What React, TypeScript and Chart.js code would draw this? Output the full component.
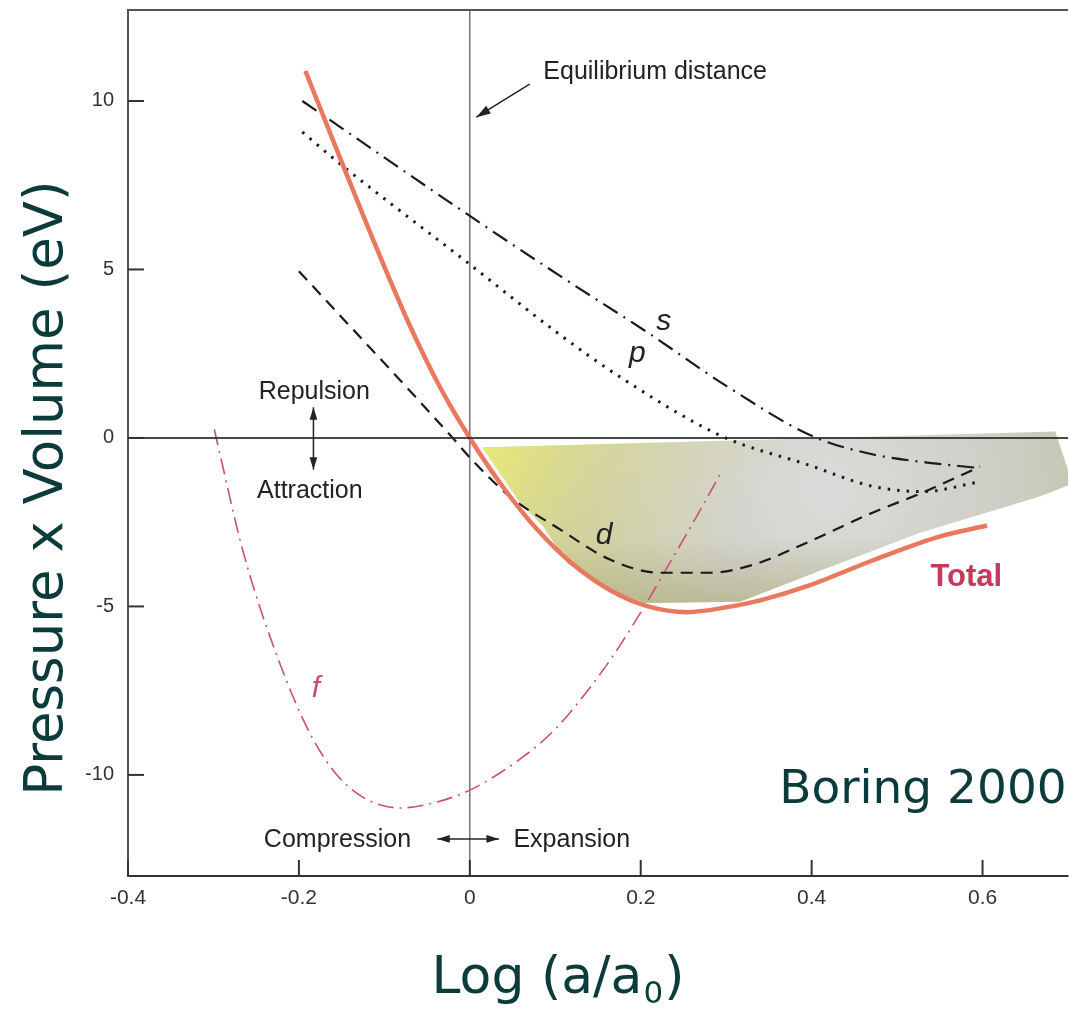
import React, { useEffect, useRef } from 'react';
import { Chart, registerables } from 'chart.js';

Chart.register(...registerables);

// ---------- data ----------
const xTicks = [-0.4, -0.2, 0, 0.2, 0.4, 0.6];
const xTickLabels = ['-0.4', '-0.2', '0', '0.2', '0.4', '0.6'];
const yTicks = [10, 5, 0, -5, -10];
const yTickLabels = ['10', '5', '0', '-5', '-10'];

const totalX = [-0.1924, -0.1515, -0.1105, -0.0696, -0.0345, 0, 0.0392, 0.0789, 0.1175, 0.1643, 0.2076, 0.2544, 0.3012, 0.3398, 0.3947, 0.4719, 0.5503, 0.6053];
const totalY = [10.89, 8.29, 5.72, 3.3, 1.49, 0, -1.47, -2.72, -3.68, -4.52, -4.99, -5.17, -5.02, -4.82, -4.4, -3.63, -2.92, -2.6];

const sX = [-0.196, -0.003, 0.106, 0.208, 0.301, 0.402, 0.472, 0.535, 0.591];
const sY = [10.0, 6.64, 4.8, 3.13, 1.53, 0.04, -0.49, -0.73, -0.88];

const pX = [-0.196, -0.154, -0.003, 0.102, 0.18, 0.296, 0.395, 0.472, 0.53, 0.599];
const pY = [9.08, 8.18, 5.21, 3.13, 1.74, 0.04, -0.79, -1.44, -1.59, -1.29];

const dX = [-0.2, -0.02, 0.0, 0.047, 0.106, 0.164, 0.223, 0.281, 0.332, 0.395, 0.472, 0.53, 0.597];
const dY = [4.95, 0.0, -0.58, -1.74, -2.72, -3.61, -4.0, -4.0, -3.76, -3.1, -2.21, -1.62, -0.85];

const fX = [-0.299, -0.265, -0.224, -0.183, -0.142, -0.081, -0.0392, 0.0018, 0.0626, 0.1, 0.1351, 0.1702, 0.2076, 0.231, 0.2614, 0.2953];
const fY = [0.25, -3.4, -6.58, -8.96, -10.35, -10.98, -10.81, -10.43, -9.46, -8.64, -7.59, -6.37, -4.86, -3.84, -2.51, -0.97];

// shaded region outline
const shadeX = [0.0146, 0.685, 0.703, 0.703, 0.667, 0.527, 0.413, 0.316, 0.205, 0.164, 0.114, 0.086, 0.059];
const shadeY = [-0.28, 0.19, -1.17, -1.38, -1.74, -2.81, -3.91, -4.86, -4.9, -4.52, -3.72, -2.63, -1.92];

const pts = (xs: number[], ys: number[]) => xs.map((x, i) => ({ x, y: ys[i] }));

// ---------- styles ----------
const ANN_FONT = '25px "Liberation Sans", Arial, sans-serif';
const CURVE_FONT = 'italic 30px "Liberation Sans", Arial, sans-serif';
const TITLE_COLOR = '#0b3b3a';

function arrowHead(ctx: CanvasRenderingContext2D, x1: number, y1: number, x2: number, y2: number, size: number) {
  const a = Math.atan2(y2 - y1, x2 - x1);
  ctx.beginPath();
  ctx.moveTo(x2, y2);
  ctx.lineTo(x2 - size * Math.cos(a - 0.3), y2 - size * Math.sin(a - 0.3));
  ctx.lineTo(x2 - size * Math.cos(a + 0.3), y2 - size * Math.sin(a + 0.3));
  ctx.closePath();
  ctx.fill();
}

function arrow(ctx: CanvasRenderingContext2D, x1: number, y1: number, x2: number, y2: number, both: boolean, size: number) {
  ctx.beginPath();
  ctx.moveTo(x1, y1);
  ctx.lineTo(x2, y2);
  ctx.stroke();
  arrowHead(ctx, x1, y1, x2, y2, size);
  if (both) arrowHead(ctx, x2, y2, x1, y1, size);
}

const decorPlugin = {
  id: 'decor',
  afterDatasetsDraw(chart: any) {
    // zero line stays visible over the shaded region
    const { ctx, chartArea, scales } = chart;
    const y0 = scales.y.getPixelForValue(0);
    ctx.save();
    ctx.strokeStyle = 'rgba(40,40,40,0.85)';
    ctx.lineWidth = 2;
    ctx.beginPath();
    ctx.moveTo(chartArea.left, y0);
    ctx.lineTo(chartArea.right, y0);
    ctx.stroke();
    ctx.restore();
  },
  afterDraw(chart: any) {
    const { ctx, chartArea, scales } = chart;
    const { left, right, top, bottom } = chartArea;
    const px = (v: number) => scales.x.getPixelForValue(v);
    const py = (v: number) => scales.y.getPixelForValue(v);
    ctx.save();

    // top frame line
    ctx.strokeStyle = '#555';
    ctx.lineWidth = 2;
    ctx.beginPath();
    ctx.moveTo(left, top);
    ctx.lineTo(right, top);
    ctx.stroke();

    // inward tick marks
    ctx.strokeStyle = '#333';
    ctx.lineWidth = 2;
    yTicks.forEach((v) => {
      const y = py(v);
      ctx.beginPath();
      ctx.moveTo(left, y);
      ctx.lineTo(left + 16, y);
      ctx.stroke();
    });
    xTicks.forEach((v) => {
      const x = px(v);
      ctx.beginPath();
      ctx.moveTo(x, bottom);
      ctx.lineTo(x, bottom - 16);
      ctx.stroke();
    });

    // annotations
    ctx.fillStyle = '#222';
    ctx.strokeStyle = '#222';
    ctx.font = ANN_FONT;
    ctx.textAlign = 'left';
    ctx.textBaseline = 'alphabetic';
    ctx.fillText('Equilibrium distance', px(0.086), py(10.65));
    ctx.fillText('Repulsion', px(-0.247), py(1.17));
    ctx.fillText('Attraction', px(-0.249), py(-1.79));
    ctx.fillText('Compression', px(-0.241), py(-12.14));
    ctx.fillText('Expansion', px(0.051), py(-12.14));

    ctx.lineWidth = 1.5;
    arrow(ctx, px(0.07), py(10.5), px(0.0076), py(9.52), false, 15);
    arrow(ctx, px(-0.183), py(0.91), px(-0.183), py(-0.94), true, 13);
    arrow(ctx, px(-0.038), py(-11.9), px(0.034), py(-11.9), true, 13);

    // curve labels
    ctx.font = CURVE_FONT;
    ctx.textAlign = 'center';
    ctx.fillStyle = '#222';
    ctx.fillText('s', px(0.227), py(3.2));
    ctx.fillText('p', px(0.196), py(2.24));
    ctx.fillText('d', px(0.157), py(-3.16));
    ctx.fillStyle = '#c94a6e';
    ctx.fillText('f', px(-0.18), py(-7.68));
    ctx.textAlign = 'left';
    ctx.fillStyle = '#c8375c';
    ctx.font = 'bold 31px "Liberation Sans", Arial, sans-serif';
    ctx.fillText('Total', px(0.539), py(-4.4));

    // source note
    ctx.fillStyle = TITLE_COLOR;
    ctx.font = '47px "DejaVu Sans", sans-serif';
    ctx.fillText('Boring 2000', px(0.362), py(-10.83));

    // axis titles
    ctx.font = '53px "DejaVu Sans", sans-serif';
    ctx.save();
    ctx.translate(62, 488);
    ctx.rotate(-Math.PI / 2);
    ctx.textAlign = 'center';
    ctx.fillText('Pressure x Volume (eV)', 0, 0);
    ctx.restore();

    ctx.textAlign = 'left';
    const mainT = 'Log (a/a';
    const subT = '0';
    const tailT = ')';
    ctx.font = '52px "DejaVu Sans", sans-serif';
    const w1 = ctx.measureText(mainT).width;
    const w3 = ctx.measureText(tailT).width;
    ctx.font = '31px "DejaVu Sans", sans-serif';
    const w2 = ctx.measureText(subT).width;
    const total = w1 + w2 + w3;
    const cx = 557;
    const x0 = cx - total / 2;
    const base = 993;
    ctx.font = '52px "DejaVu Sans", sans-serif';
    ctx.fillText(mainT, x0, base);
    ctx.font = '31px "DejaVu Sans", sans-serif';
    ctx.fillText(subT, x0 + w1 + 1, base + 10);
    ctx.font = '52px "DejaVu Sans", sans-serif';
    ctx.fillText(tailT, x0 + w1 + w2 + 2, base);

    ctx.restore();
  },
};

function shadeBase(c: any) {
  const { ctx, chartArea, scales } = c.chart;
  if (!chartArea) return 'rgba(205,205,195,1)';
  const cx = scales.x.getPixelForValue(0.42);
  const cy = scales.y.getPixelForValue(-1.5);
  const g = ctx.createRadialGradient(cx, cy, 0, cx, cy, 300);
  g.addColorStop(0, '#dbdbda');
  g.addColorStop(0.55, '#cfcfc7');
  g.addColorStop(1, '#c2c2aa');
  return g;
}

function shadeYellow(c: any) {
  const { ctx, chartArea, scales } = c.chart;
  if (!chartArea) return 'rgba(0,0,0,0)';
  const x1 = scales.x.getPixelForValue(0.015);
  const y1 = scales.y.getPixelForValue(-0.2);
  const x2 = scales.x.getPixelForValue(0.3);
  const y2 = scales.y.getPixelForValue(-3.6);
  const g = ctx.createLinearGradient(x1, y1, x2, y2);
  g.addColorStop(0, 'rgba(236,236,118,0.95)');
  g.addColorStop(0.45, 'rgba(226,226,130,0.45)');
  g.addColorStop(1, 'rgba(226,226,130,0)');
  return g;
}

function shadeBottom(c: any) {
  const { ctx, chartArea, scales } = c.chart;
  if (!chartArea) return 'rgba(0,0,0,0)';
  const y1 = scales.y.getPixelForValue(-3.0);
  const y2 = scales.y.getPixelForValue(-4.95);
  const g = ctx.createLinearGradient(0, y1, 0, y2);
  g.addColorStop(0, 'rgba(172,172,120,0)');
  g.addColorStop(1, 'rgba(172,172,120,0.6)');
  return g;
}

export default function App() {
  const ref = useRef<HTMLCanvasElement>(null);
  useEffect(() => {
    document.body.style.margin = '0';
    const lineBase = { pointRadius: 0, fill: false, cubicInterpolationMode: 'monotone' as const };
    const shapeBase = { pointRadius: 0, borderWidth: 0, borderColor: 'rgba(0,0,0,0)', fill: 'shape', tension: 0 };
    const chart = new Chart(ref.current as HTMLCanvasElement, {
      type: 'line',
      data: {
        datasets: [
          { ...lineBase, label: 'Total', data: pts(totalX, totalY), borderColor: '#e9785f', borderWidth: 4.5, order: 0 },
          { ...lineBase, label: 'd', data: pts(dX, dY), borderColor: '#1a1a1a', borderWidth: 2.2, borderDash: [12, 8], order: 1 },
          { ...lineBase, label: 'f', data: pts(fX, fY), borderColor: '#cc4f73', borderWidth: 1.6, borderDash: [16, 6, 2, 6], order: 2 },
          { ...lineBase, label: 's', data: pts(sX, sY), borderColor: '#1a1a1a', borderWidth: 2.2, borderDash: [17, 7, 2, 7], order: 3 },
          { ...lineBase, label: 'p', data: pts(pX, pY), borderColor: '#1a1a1a', borderWidth: 3, borderDash: [2.5, 7], order: 4 },
          { ...shapeBase, label: 'shade-bottom', data: pts(shadeX, shadeY), backgroundColor: shadeBottom as any, order: 9 },
          { ...shapeBase, label: 'shade-yellow', data: pts(shadeX, shadeY), backgroundColor: shadeYellow as any, order: 10 },
          { ...shapeBase, label: 'shade', data: pts(shadeX, shadeY), backgroundColor: shadeBase as any, order: 11 },
        ] as any,
      },
      options: {
        animation: false,
        responsive: true,
        maintainAspectRatio: false,
        layout: { padding: { top: 10, right: 2, left: 0, bottom: 0 } },
        plugins: { legend: { display: false }, tooltip: { enabled: false } },
        scales: {
          x: {
            type: 'linear',
            min: -0.4,
            max: 0.7,
            afterBuildTicks: (s: any) => { s.ticks = xTicks.map((v) => ({ value: v })); },
            afterFit: (s: any) => { s.height = 133; s.paddingLeft = 0; s.paddingRight = 0; },
            ticks: {
              callback: (_v: any, i: number) => xTickLabels[i],
              font: { family: '"Liberation Sans", Arial, sans-serif', size: 21 },
              color: '#333',
              padding: 10,
              maxRotation: 0,
              autoSkip: false,
            },
            grid: {
              drawTicks: false,
              color: (c: any) => (c.tick && c.tick.value === 0 ? '#777' : 'rgba(0,0,0,0)'),
              lineWidth: 1.5,
            },
            border: { display: true, color: '#333', width: 2 },
          },
          y: {
            type: 'linear',
            min: -13,
            max: 12.7,
            afterBuildTicks: (s: any) => { s.ticks = yTicks.map((v) => ({ value: v })); },
            afterFit: (s: any) => { s.width = 128; s.paddingTop = 0; s.paddingBottom = 0; },
            ticks: {
              callback: (_v: any, i: number) => yTickLabels[i],
              font: { family: '"Liberation Sans", Arial, sans-serif', size: 20 },
              color: '#333',
              padding: 14,
              autoSkip: false,
            },
            grid: {
              drawTicks: false,
              color: 'rgba(0,0,0,0)',
              lineWidth: 2,
            },
            border: { display: true, color: '#555', width: 2 },
          },
        },
      },
      plugins: [decorPlugin],
    });
    return () => chart.destroy();
  }, []);
  return (
    <div style={{ position: 'absolute', left: 0, top: 0, width: 1070, height: 1009 }}>
      <canvas ref={ref} />
    </div>
  );
}
